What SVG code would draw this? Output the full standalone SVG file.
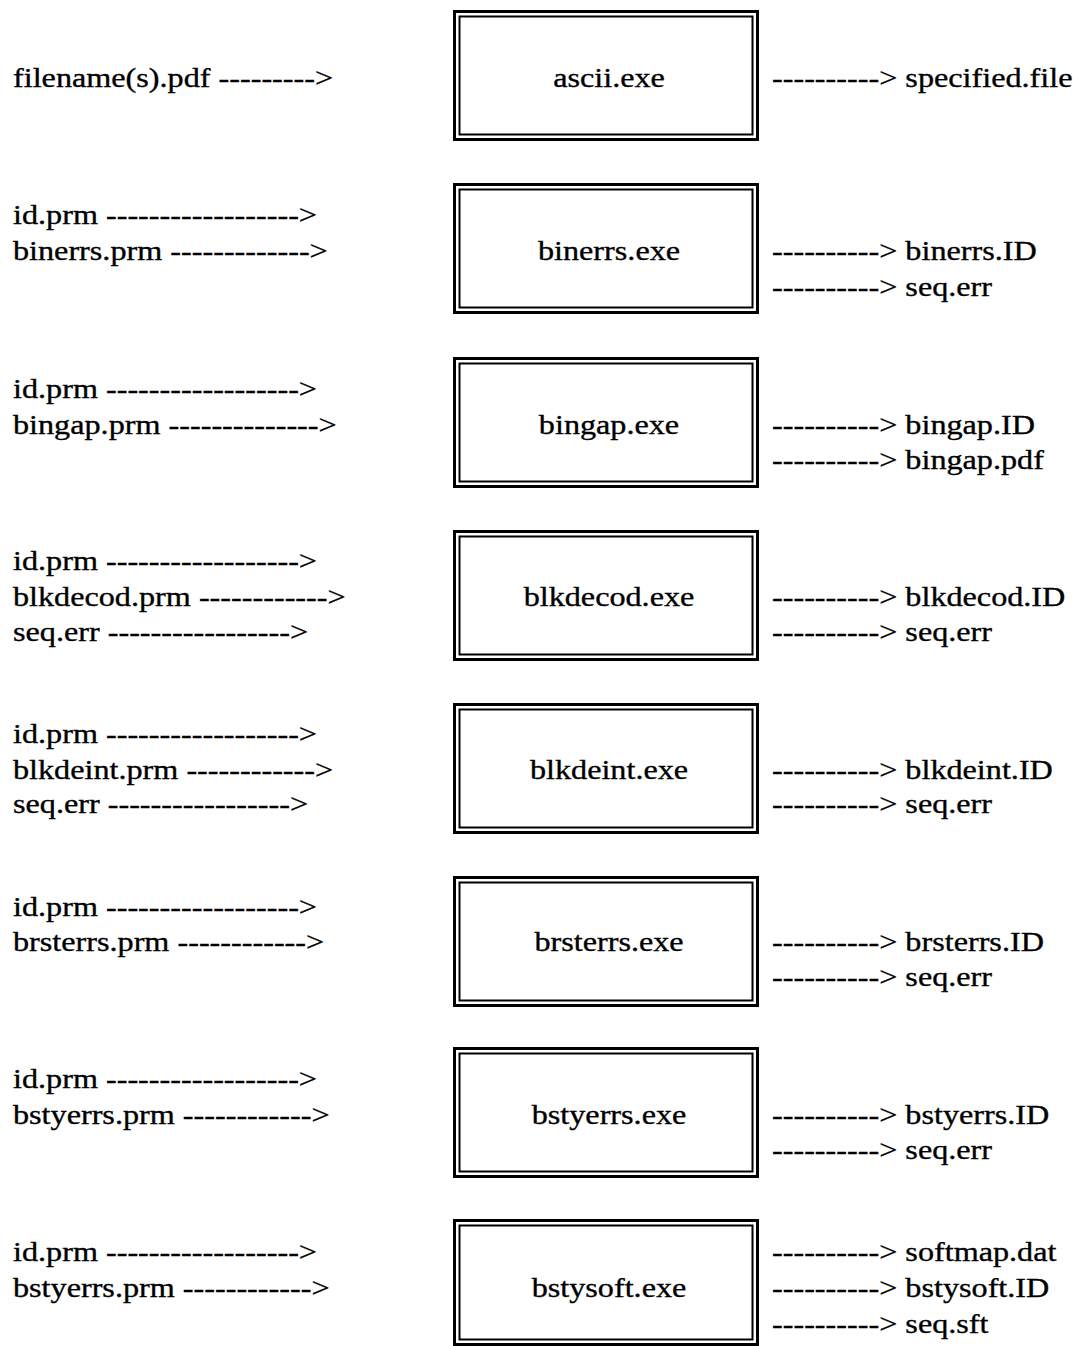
<svg xmlns="http://www.w3.org/2000/svg" width="1073" height="1346" viewBox="0 0 1073 1346">
<style>
  text { font-family: "Liberation Serif", "Times New Roman", serif; font-size: 28px; fill: #000; stroke: #000; stroke-width: 0.35; }
  .outer { fill: #fff; stroke: #000; stroke-width: 3; }
  .inner { fill: none; stroke: #000; stroke-width: 2; }
  .c { text-anchor: middle; }
</style>
<rect width="1073" height="1346" fill="#fff"/>

<g id="ascii">
  <rect class="outer" x="454.5" y="11.5" width="303" height="128"/>
  <rect class="inner" x="459.5" y="16.5" width="293" height="118"/>
  <text class="c" transform="translate(609,87) scale(1.15,1)">ascii.exe</text>
</g>
<g id="binerrs">
  <rect class="outer" x="454.5" y="184.5" width="303" height="128"/>
  <rect class="inner" x="459.5" y="189.5" width="293" height="118"/>
  <text class="c" transform="translate(609,260) scale(1.15,1)">binerrs.exe</text>
</g>
<g id="bingap">
  <rect class="outer" x="454.5" y="358.5" width="303" height="128"/>
  <rect class="inner" x="459.5" y="363.5" width="293" height="118"/>
  <text class="c" transform="translate(609,434) scale(1.15,1)">bingap.exe</text>
</g>
<g id="blkdecod">
  <rect class="outer" x="454.5" y="531.5" width="303" height="128"/>
  <rect class="inner" x="459.5" y="536.5" width="293" height="118"/>
  <text class="c" transform="translate(609,606) scale(1.15,1)">blkdecod.exe</text>
</g>
<g id="blkdeint">
  <rect class="outer" x="454.5" y="704.5" width="303" height="128"/>
  <rect class="inner" x="459.5" y="709.5" width="293" height="118"/>
  <text class="c" transform="translate(609,779) scale(1.15,1)">blkdeint.exe</text>
</g>
<g id="brsterrs">
  <rect class="outer" x="454.5" y="877.5" width="303" height="128"/>
  <rect class="inner" x="459.5" y="882.5" width="293" height="118"/>
  <text class="c" transform="translate(609,951) scale(1.15,1)">brsterrs.exe</text>
</g>
<g id="bstyerrs">
  <rect class="outer" x="454.5" y="1048.5" width="303" height="128"/>
  <rect class="inner" x="459.5" y="1053.5" width="293" height="118"/>
  <text class="c" transform="translate(609,1124) scale(1.15,1)">bstyerrs.exe</text>
</g>
<g id="bstysoft">
  <rect class="outer" x="454.5" y="1220.5" width="303" height="124"/>
  <rect class="inner" x="459.5" y="1225.5" width="293" height="114"/>
  <text class="c" transform="translate(609,1297) scale(1.15,1)">bstysoft.exe</text>
</g>

<g id="connectors">
  <g id="in-ascii">
    <text transform="translate(13,87) scale(1.15,1)">filename(s).pdf ---------&gt;</text>
  </g>
  <g id="out-ascii">
    <text transform="translate(772,87) scale(1.15,1)">----------&gt; specified.file</text>
  </g>

  <g id="in-binerrs">
    <text transform="translate(13,224) scale(1.15,1)">id.prm ------------------&gt;</text>
    <text transform="translate(13,260) scale(1.15,1)">binerrs.prm -------------&gt;</text>
  </g>
  <g id="out-binerrs">
    <text transform="translate(772,260) scale(1.15,1)">----------&gt; binerrs.ID</text>
    <text transform="translate(772,296) scale(1.15,1)">----------&gt; seq.err</text>
  </g>

  <g id="in-bingap">
    <text transform="translate(13,398) scale(1.15,1)">id.prm ------------------&gt;</text>
    <text transform="translate(13,434) scale(1.15,1)">bingap.prm --------------&gt;</text>
  </g>
  <g id="out-bingap">
    <text transform="translate(772,434) scale(1.15,1)">----------&gt; bingap.ID</text>
    <text transform="translate(772,469) scale(1.15,1)">----------&gt; bingap.pdf</text>
  </g>

  <g id="in-blkdecod">
    <text transform="translate(13,570) scale(1.15,1)">id.prm ------------------&gt;</text>
    <text transform="translate(13,606) scale(1.15,1)">blkdecod.prm ------------&gt;</text>
    <text transform="translate(13,641) scale(1.15,1)">seq.err -----------------&gt;</text>
  </g>
  <g id="out-blkdecod">
    <text transform="translate(772,606) scale(1.15,1)">----------&gt; blkdecod.ID</text>
    <text transform="translate(772,641) scale(1.15,1)">----------&gt; seq.err</text>
  </g>

  <g id="in-blkdeint">
    <text transform="translate(13,743) scale(1.15,1)">id.prm ------------------&gt;</text>
    <text transform="translate(13,779) scale(1.15,1)">blkdeint.prm ------------&gt;</text>
    <text transform="translate(13,813) scale(1.15,1)">seq.err -----------------&gt;</text>
  </g>
  <g id="out-blkdeint">
    <text transform="translate(772,779) scale(1.15,1)">----------&gt; blkdeint.ID</text>
    <text transform="translate(772,813) scale(1.15,1)">----------&gt; seq.err</text>
  </g>

  <g id="in-brsterrs">
    <text transform="translate(13,916) scale(1.15,1)">id.prm ------------------&gt;</text>
    <text transform="translate(13,951) scale(1.15,1)">brsterrs.prm ------------&gt;</text>
  </g>
  <g id="out-brsterrs">
    <text transform="translate(772,951) scale(1.15,1)">----------&gt; brsterrs.ID</text>
    <text transform="translate(772,986) scale(1.15,1)">----------&gt; seq.err</text>
  </g>

  <g id="in-bstyerrs">
    <text transform="translate(13,1088) scale(1.15,1)">id.prm ------------------&gt;</text>
    <text transform="translate(13,1124) scale(1.15,1)">bstyerrs.prm ------------&gt;</text>
  </g>
  <g id="out-bstyerrs">
    <text transform="translate(772,1124) scale(1.15,1)">----------&gt; bstyerrs.ID</text>
    <text transform="translate(772,1159) scale(1.15,1)">----------&gt; seq.err</text>
  </g>

  <g id="in-bstysoft">
    <text transform="translate(13,1261) scale(1.15,1)">id.prm ------------------&gt;</text>
    <text transform="translate(13,1297) scale(1.15,1)">bstyerrs.prm ------------&gt;</text>
  </g>
  <g id="out-bstysoft">
    <text transform="translate(772,1261) scale(1.15,1)">----------&gt; softmap.dat</text>
    <text transform="translate(772,1297) scale(1.15,1)">----------&gt; bstysoft.ID</text>
    <text transform="translate(772,1333) scale(1.15,1)">----------&gt; seq.sft</text>
  </g>
</g>
</svg>
